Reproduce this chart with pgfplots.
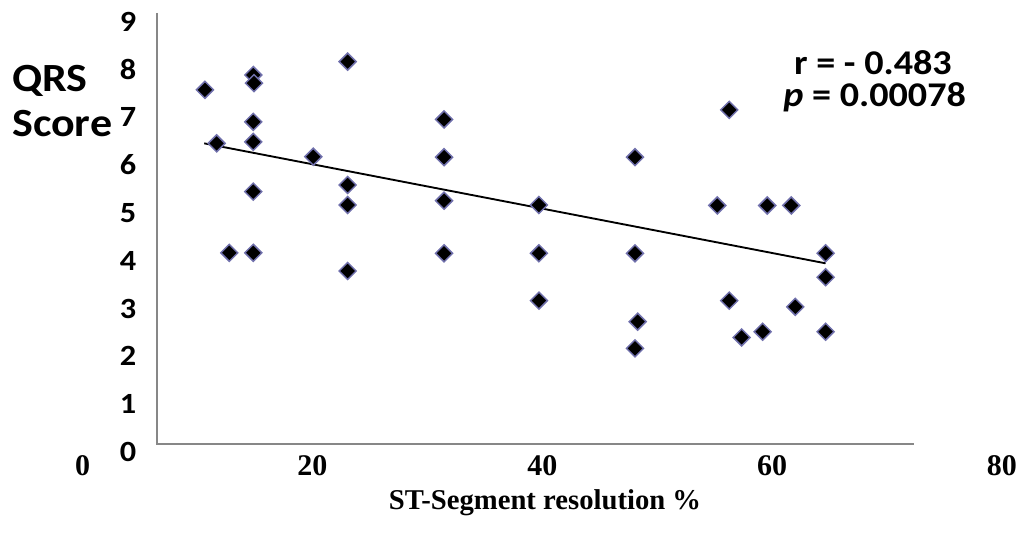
\documentclass[border=0pt]{standalone}
\usepackage{fontspec}
\setmainfont{Carlito}[FakeStretch=1.1]
\newfontfamily\timesfont{Liberation Serif}
\usepackage{pgfplots}
\pgfplotsset{compat=1.18}

\definecolor{markedge}{RGB}{112,112,172}
\definecolor{axisgray}{RGB}{135,135,135}

\begin{document}
\begin{tikzpicture}
\begin{axis}[
    at={(62.0pt,72pt)}, anchor=south west,
    scale only axis,
    width=689.4pt, height=322.65pt,
    xmin=0, xmax=80, ymin=0, ymax=9,
    clip=false,
    axis x line*=bottom, axis y line*=left,
    axis line style={draw=none},
    major tick length=0pt,
    xtick={0,20,40,60,80},
    ytick={0,1,...,9},
    /pgf/number format/assume math mode=true,
    xticklabel style={font=\timesfont\bfseries\fontsize{22.5}{26}\selectfont,
        anchor=base, inner sep=0pt, yshift=-23.5pt},
    yticklabel style={font=\bfseries\fontsize{22}{26}\selectfont,
        anchor=base east, inner sep=0pt, xshift=40.3pt, yshift=-13.1pt},
    xlabel={ST-Segment resolution \%},
    xlabel style={font=\timesfont\bfseries\fontsize{21.5}{25}\selectfont,
        at={(axis description cs:0.503,-0.152)}, anchor=base, inner sep=0pt},
]
% scatter points
\addplot[only marks, mark=square*, mark size=4.5pt,
    mark options={rotate=45, fill=black, draw=markedge, line width=1.1pt}]
coordinates {
(10.64,7.41) (14.85,7.72) (14.91,7.55) (23.06,8.00) (14.85,6.74)
(11.66,6.29) (14.85,6.32) (20.07,6.01) (23.06,5.42) (23.06,5.00)
(14.85,5.28) (12.76,4.00) (14.85,4.00) (23.06,3.62)
(31.45,6.79) (31.45,6.00) (48.07,6.00) (31.45,5.09) (39.71,5.00)
(31.45,3.99) (39.71,3.99) (48.07,3.99) (39.71,3.00) (48.30,2.56)
(48.07,2.00)
(56.27,6.99) (55.23,4.99) (59.58,4.99) (61.67,4.99) (64.66,3.99)
(64.66,3.49) (56.27,3.00) (62.02,2.87) (57.35,2.23) (59.18,2.35)
(64.66,2.35)
};
% linear trend line
\addplot[black, line width=1.4pt, no marks] coordinates {(10.58,6.29) (64.66,3.78)};
% axis lines
\draw[axisgray, line width=1.1pt] (axis cs:6.47,9.02) -- (axis cs:6.47,0) -- (axis cs:72.35,0);
\end{axis}

\node[anchor=base west, inner sep=0pt, font=\bfseries\fontsize{30}{36}\selectfont] at (9pt,336pt) {QRS};
\node[anchor=base west, inner sep=0pt, font=\bfseries\fontsize{30}{36}\selectfont] at (9pt,302.25pt) {Score};
\node[anchor=base, inner sep=0pt, font=\bfseries\fontsize{26}{30}\selectfont] at (654.75pt,348.75pt) {r = - 0.483};
\node[anchor=base, inner sep=0pt, font=\bfseries\fontsize{26}{30}\selectfont] at (656pt,324.75pt) {\textit{p} = 0.00078};

\path[use as bounding box] (0,0) rectangle (772.5pt,405pt);
\end{tikzpicture}
\end{document}
